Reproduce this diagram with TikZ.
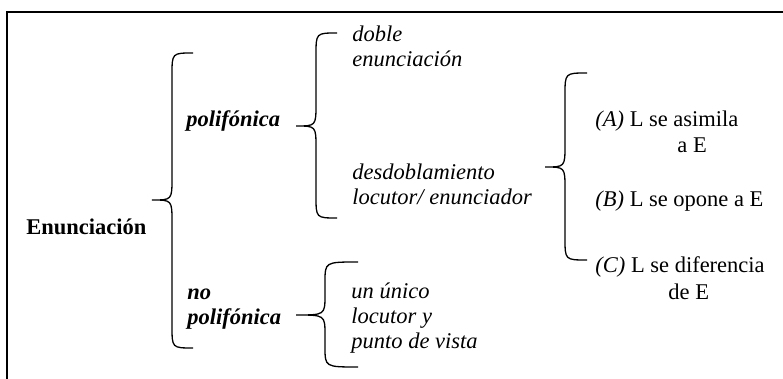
\documentclass[tikz,border=0pt]{standalone}
\usepackage{fontspec}
\setmainfont{Liberation Serif}
\newcommand\curlybrace[7]{% tip x, stem x, arm x, top, tip y, bottom, bend
  \draw[bracel] (#3,#4) .. controls (#2,#4) .. (#2,#4+#7)
    -- (#2,#5-#7) .. controls (#2,#5) .. (#1,#5)
    .. controls (#2,#5) .. (#2,#5+#7)
    -- (#2,#6-#7) .. controls (#2,#6) .. (#3,#6);
}

\begin{document}
\begin{tikzpicture}[x=0.5pt,y=-0.5pt,
    font=\fontsize{11.25}{12.5}\selectfont,
    bracel/.style={line width=0.65pt},
    lbl/.style={anchor=base west,inner sep=0pt,align=left},
    bitl/.style={lbl,font=\fontsize{11.25}{12.5}\selectfont\bfseries\itshape},
    itl/.style={lbl,font=\fontsize{11.25}{12.5}\selectfont\itshape},
    ]
    \useasboundingbox (0,0) rectangle (783,379);
    \clip (0,0) rectangle (783,379);
    \draw[line width=1pt] (7,12) rectangle (800,400);
    % first level (multi-line nodes sit on their last baseline)
    \node[lbl,font=\fontsize{11.25}{12.5}\selectfont\bfseries] (Enu) at (26,235) {Enunciación};
    \curlybrace{152}{172}{193}{53}{200}{348}{22}
    \node[bitl] (Pol) at (186,127) {polifónica};
    \node[bitl] (NoP) at (187,325) {no\\polifónica};
    % second level
    \curlybrace{296}{316}{337}{33}{126}{218}{22}
    \node[itl] (Dob) at (352,67) {doble\\enunciación};
    \node[itl] (Des) at (352,205) {desdoblamiento\\locutor/ enunciador};
    \curlybrace{296}{325}{358}{262}{315}{367}{20}
    \node[itl] (Uni) at (351,349) {un único\\locutor y\\punto de vista};
    % third level
    \curlybrace{545}{565}{587}{73}{167}{260}{22}
    \node[lbl] (A) at (595,127) {\textit{(A)} L se asimila};
    \node[lbl] (Ae) at (677,153) {a E};
    \node[lbl] (B) at (595,207) {\textit{(B)} L se opone a E};
    \node[lbl] (C) at (595,273) {\textit{(C)} L se diferencia};
    \node[lbl] (Ce) at (668,300) {de E};
\end{tikzpicture}
\end{document}
